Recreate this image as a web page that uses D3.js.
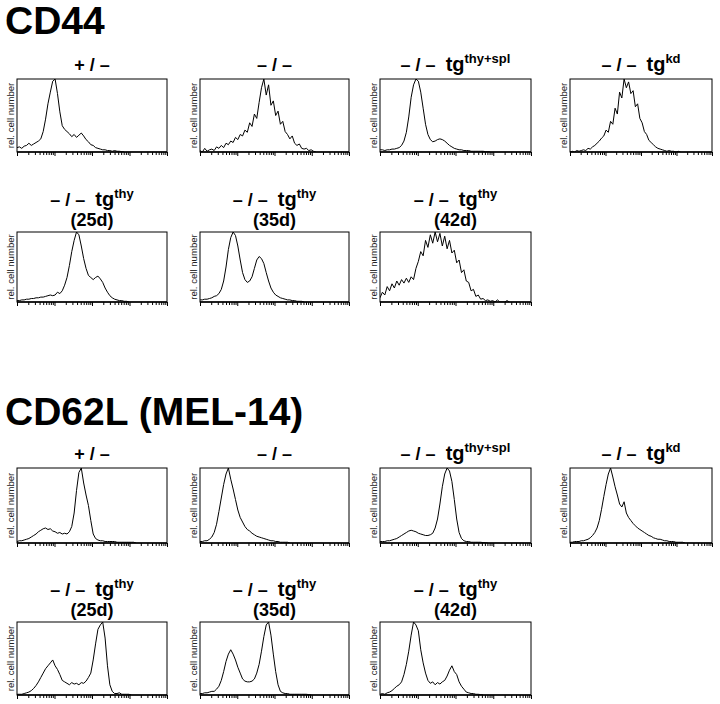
<!DOCTYPE html>
<html>
<head>
<meta charset="utf-8">
<script src="https://cdn.jsdelivr.net/npm/d3@7/dist/d3.min.js"></script>
<style>
  body { margin: 0; background: #fff; }
  svg { display: block; font-family: "Liberation Sans", Arial, sans-serif; }
</style>
</head>
<body>
<div id="chart"></div>
<script>
// relative cell number per channel (64 channels over 4 log decades)
const cd44Het      = [6,7,5,8,9,12,9,11,13,15,18,28,45,66,82,97,100,80,55,36,31,28,25,21,24,20,23,26,22,17,14,10,9,6,5,4,3,3,2,2,1,2,1,1,0.5,0]
const cd44Ko       = [2,0,5,1,3,4,2,7,5,9,6,12,10,15,13,20,17,24,22,30,27,40,35,52,46,68,88,100,78,92,64,70,50,56,38,42,28,24,18,22,12,9,11,5,4,5,2,3,1,0]
const cd44ThySpl   = [3,3,2,3,3,4,4,5,6,9,15,27,48,75,92,100,97,82,60,38,24,17,14,15,17,18,17,15,12,9,7,5,4,3,3,2,2,2,1,1,1,1,1,1,0.5,0.5,0]
const cd44Kd       = [0,1,0,2,1,2,3,2,5,4,7,9,12,15,19,22,30,27,42,38,60,52,82,74,100,88,96,80,84,62,66,46,40,28,24,16,13,10,7,5,4,3,2,1,2,1,1,0,1,0]
const cd44Thy25    = [2,2,3,3,4,4,5,5,6,6,7,7,8,9,10,9,10,14,12,16,24,35,52,72,88,100,96,80,62,48,38,35,32,35,37,33,28,20,14,9,6,4,3,2,2,1,1,0]
const cd44Thy35    = [3,3,4,4,5,6,8,9,12,18,30,50,75,92,100,95,80,60,42,32,28,30,36,48,60,65,62,55,42,30,20,14,10,8,6,5,4,3,3,2,2,1,1,1,0]
const cd44Thy42    = [6,14,10,22,16,26,20,30,24,32,27,34,28,36,32,48,58,72,66,88,78,96,84,100,86,98,80,94,76,88,70,74,56,60,42,46,30,28,16,18,8,10,4,5,2,3,1,2,0,3,0,0,0,2,0]

const cd62Het      = [2,3,3,4,5,6,8,10,12,15,17,19,20,18,19,16,15,13,14,12,13,12,15,22,40,70,94,100,80,64,50,30,12,6,4,3,3,2,2,2,2,2,1,1,1,1,1,1,1,1,0]
const cd62Ko       = [2,2,3,3,5,8,14,25,42,60,78,92,100,85,72,58,44,34,28,22,18,16,13,11,9,8,7,6,5,4,3,3,2,2,1,1,1,1,0]
const cd62ThySpl   = [2,2,2,3,3,4,5,6,8,10,12,14,16,17,16,15,13,12,11,10,10,11,13,20,32,52,75,92,100,96,82,58,32,14,6,3,2,2,1,1,1,1,1,0.5,0.5,0]
const cd62Kd       = [1,1,2,2,2,3,3,4,5,7,10,14,20,30,45,62,78,92,100,88,75,64,52,48,55,40,34,30,26,23,20,18,16,14,12,10,9,7,6,5,5,4,3,3,2,2,2,1,1,1,1,0]
const cd62Thy25    = [1,1,1,2,3,4,6,9,13,18,24,30,36,40,44,48,40,35,28,20,18,16,14,17,15,16,14,17,16,19,24,30,48,70,90,96,100,78,40,14,5,2,2,3,1,1,1,1,0]
const cd62Thy35    = [2,2,3,3,4,5,5,8,12,20,32,46,56,62,56,48,38,30,22,19,18,18,19,22,30,42,60,80,96,100,82,56,32,14,5,3,2,2,1,1,1,1,1,1,1,1,0.5,0]
const cd62Thy42    = [1,2,1,3,4,6,9,12,14,18,28,42,60,82,100,96,88,62,44,30,20,16,18,14,17,15,18,20,26,34,40,32,28,18,12,8,4,3,2,2,1,1,0.5,0]

const NBINS = 64
const nb = "\u00a0"
const het = "+" + nb + "/" + nb + "–"
const ko = "–" + nb + "/" + nb + "–"
const koTg = "–" + nb + "/" + nb + "–" + nb + nb

// layout
const width = 720
const height = 704
const colX = [[17, 167], [200, 349], [380, 531], [570, 712]]
const rowY = [[79, 152], [232, 302], [468, 543], [622, 695]]

const groups = [
  { name: "CD44", baseline: 34 },
  { name: "CD62L (MEL-14)", baseline: 425 }
]

const panels = [
  { row: 0, col: 0, main: het, tg: false, sup: null, sub: null, data: cd44Het },
  { row: 0, col: 1, main: ko, tg: false, sup: null, sub: null, data: cd44Ko },
  { row: 0, col: 2, main: koTg, tg: true, sup: "thy+spl", sub: null, data: cd44ThySpl },
  { row: 0, col: 3, main: koTg, tg: true, sup: "kd", sub: null, data: cd44Kd },
  { row: 1, col: 0, main: koTg, tg: true, sup: "thy", sub: "(25d)", data: cd44Thy25 },
  { row: 1, col: 1, main: koTg, tg: true, sup: "thy", sub: "(35d)", data: cd44Thy35 },
  { row: 1, col: 2, main: koTg, tg: true, sup: "thy", sub: "(42d)", data: cd44Thy42 },
  { row: 2, col: 0, main: het, tg: false, sup: null, sub: null, data: cd62Het },
  { row: 2, col: 1, main: ko, tg: false, sup: null, sub: null, data: cd62Ko },
  { row: 2, col: 2, main: koTg, tg: true, sup: "thy+spl", sub: null, data: cd62ThySpl },
  { row: 2, col: 3, main: koTg, tg: true, sup: "kd", sub: null, data: cd62Kd },
  { row: 3, col: 0, main: koTg, tg: true, sup: "thy", sub: "(25d)", data: cd62Thy25 },
  { row: 3, col: 1, main: koTg, tg: true, sup: "thy", sub: "(35d)", data: cd62Thy35 },
  { row: 3, col: 2, main: koTg, tg: true, sup: "thy", sub: "(42d)", data: cd62Thy42 }
]

const svg = d3.select("#chart").append("svg")
  .attr("width", width)
  .attr("height", height)

svg.append("rect").attr("width", width).attr("height", height).attr("fill", "white")

// big group headings
svg.selectAll("text.group")
  .data(groups)
  .enter()
  .append("text")
  .attr("class", "group")
  .attr("x", 5)
  .attr("y", d => d.baseline)
  .attr("font-size", 39)
  .attr("font-weight", "bold")
  .text(d => d.name)

// log tick values for 4 decades
const tickVals = []
for (let k = 0; k < 4; k++) {
  for (let m = 1; m < 10; m++) tickVals.push(m * Math.pow(10, k))
}
tickVals.push(10000)

panels.forEach((p, i) => {
  const [x0, x1] = colX[p.col]
  const [y0, y1] = rowY[p.row]
  const g = svg.append("g")

  const chan = d3.scaleLinear().domain([0, NBINS - 1]).range([x0, x1])
  const logX = d3.scaleLog().domain([1, 10000]).range([x0, x1])
  const y = d3.scaleLinear().domain([0, 100]).range([y1, y0])

  g.append("clipPath").attr("id", "clip" + i)
    .append("rect").attr("x", x0).attr("y", y0).attr("width", x1 - x0).attr("height", y1 - y0)

  // histogram trace
  const line = d3.line()
    .x((d, j) => chan(j))
    .y(d => y(d))
  g.append("path")
    .datum(p.data)
    .attr("clip-path", "url(#clip" + i + ")")
    .attr("d", line)
    .attr("fill", "none")
    .attr("stroke", "#000")
    .attr("stroke-width", 1)
    .attr("stroke-linejoin", "round")

  // frame
  g.append("rect")
    .attr("x", x0).attr("y", y0)
    .attr("width", x1 - x0).attr("height", y1 - y0)
    .attr("fill", "none")
    .attr("stroke", "#000")
    .attr("stroke-width", 1)

  // bottom axis with log ticks
  const axis = d3.axisBottom(logX)
    .tickValues(tickVals)
    .tickSize(3)
    .tickFormat("")
  const ax = g.append("g")
    .attr("transform", "translate(0," + y1 + ")")
    .call(axis)
  ax.select(".domain").remove()
  ax.selectAll(".tick line")
    .attr("stroke", "#000")
    .attr("y2", d => (Math.log10(d) % 1 === 0 ? 4 : 3))
  g.append("line")
    .attr("x1", x0).attr("x2", x1)
    .attr("y1", y1).attr("y2", y1)
    .attr("stroke", "#000")
    .attr("stroke-width", 1.6)

  // y label
  g.append("text")
    .attr("transform", "translate(" + (x0 - 3) + "," + ((y0 + y1) / 2) + ") rotate(-90)")
    .attr("text-anchor", "middle")
    .attr("font-size", 9.6)
    .attr("fill", "#222")
    .text("rel. cell number")

  // panel title
  const cx = (x0 + x1) / 2
  const firstBase = p.sub ? y0 - 26 : y0 - 8
  const t = g.append("text")
    .attr("x", cx)
    .attr("y", firstBase)
    .attr("text-anchor", "middle")
    .attr("font-size", 18)
    .attr("font-weight", "bold")
  t.append("tspan").text(p.main)
  if (p.tg) {
    t.append("tspan").attr("font-size", 20).text("tg")
  }
  if (p.sup) {
    t.append("tspan")
      .attr("font-size", 13)
      .attr("dy", -8)
      .text(p.sup)
  }
  if (p.sub) {
    g.append("text")
      .attr("x", cx)
      .attr("y", y0 - 6)
      .attr("text-anchor", "middle")
      .attr("font-size", 18)
      .attr("font-weight", "bold")
      .text(p.sub)
  }
})
</script>
</body>
</html>
